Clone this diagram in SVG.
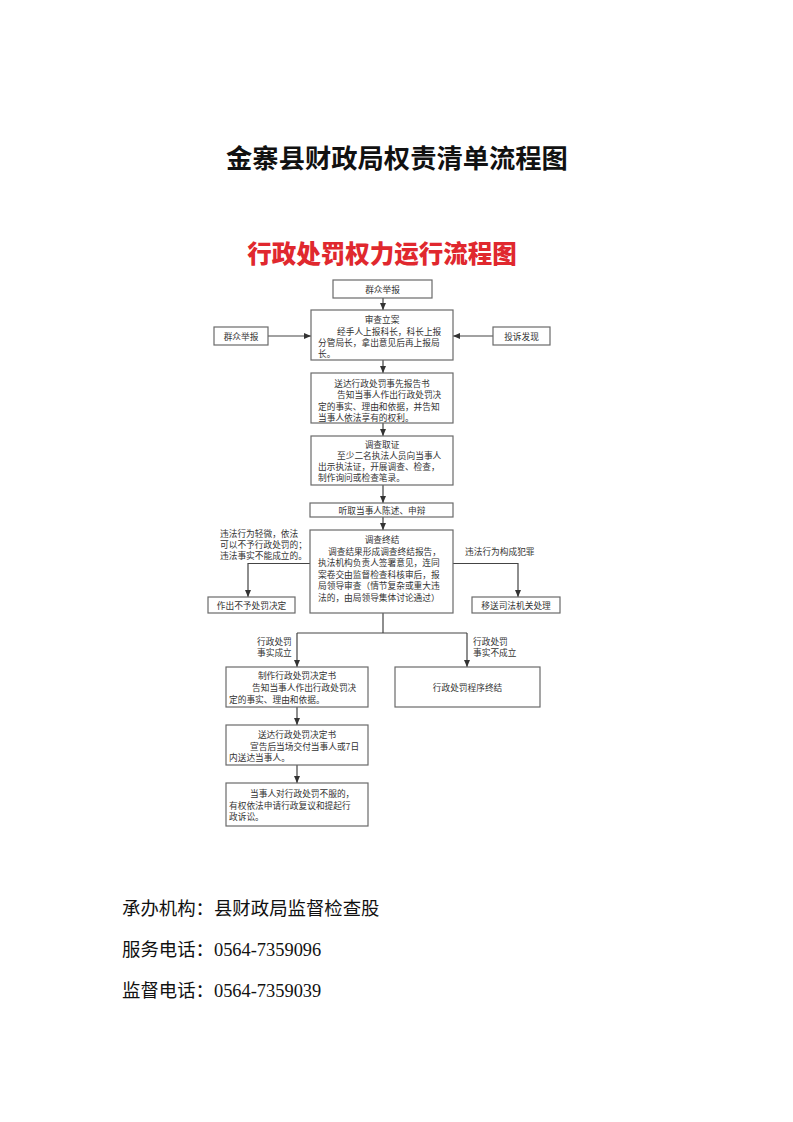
<svg xmlns="http://www.w3.org/2000/svg" width="793" height="1122" viewBox="0 0 793 1122">
<defs>
<style>
.bx{fill:#fff;stroke:#6a6a6a;stroke-width:1.2}
.t{font-family:"Noto Sans CJK SC",sans-serif;font-size:8.7px;fill:#333}
.c{text-anchor:middle}
.ln{fill:none;stroke:#444;stroke-width:1.2}
.ft{font-family:"Liberation Serif","Noto Sans CJK SC",serif;font-size:18.4px;fill:#111}
</style>
<marker id="ah" markerWidth="7" markerHeight="6" refX="7" refY="3" orient="auto" markerUnits="userSpaceOnUse">
<path d="M0,0 L7,3 L0,6 z" fill="#333"/>
</marker>
</defs>
<rect width="793" height="1122" fill="#fff"/>
<text x="397" y="168" text-anchor="middle" font-family="Liberation Serif,'Noto Sans CJK SC',serif" font-size="26.3" font-weight="700" fill="#111">金寨县财政局权责清单流程图</text>
<text x="382" y="263" text-anchor="middle" font-family="'Noto Sans CJK SC',sans-serif" font-size="24.5" font-weight="900" fill="#e0282e">行政处罚权力运行流程图</text>

<g id="connectors">
<path class="ln" d="M383,298 V310" marker-end="url(#ah)"/>
<path class="ln" d="M268,336 H311" marker-end="url(#ah)"/>
<path class="ln" d="M493,336 H453" marker-end="url(#ah)"/>
<path class="ln" d="M383,360 V373" marker-end="url(#ah)"/>
<path class="ln" d="M383,423 V436" marker-end="url(#ah)"/>
<path class="ln" d="M383,485 V503" marker-end="url(#ah)"/>
<path class="ln" d="M383,517 V530" marker-end="url(#ah)"/>
<path class="ln" d="M310,563.5 H248 V597" marker-end="url(#ah)"/>
<path class="ln" d="M453,563.5 H518 V597" marker-end="url(#ah)"/>
<path class="ln" d="M383,613 V633 M297,633 H467"/>
<path class="ln" d="M297,633 V667" marker-end="url(#ah)"/>
<path class="ln" d="M467,633 V667" marker-end="url(#ah)"/>
<path class="ln" d="M297,707 V725" marker-end="url(#ah)"/>
<path class="ln" d="M297,765 V783" marker-end="url(#ah)"/>
<text class="t" x="220" y="537">违法行为轻微，依法</text>
<text class="t" x="220" y="548">可以不予行政处罚的；</text>
<text class="t" x="220" y="559">违法事实不能成立的。</text>
<text class="t" x="465" y="555">违法行为构成犯罪</text>
<text class="t" x="257" y="645">行政处罚</text>
<text class="t" x="257" y="656">事实成立</text>
<text class="t" x="473" y="645">行政处罚</text>
<text class="t" x="473" y="656">事实不成立</text>
</g>

<g id="n_qzjb_top"><rect class="bx" x="333" y="280" width="99" height="18"/><text class="t c" x="382.5" y="292.5">群众举报</text></g>
<g id="n_qzjb_left"><rect class="bx" x="214" y="327" width="54" height="18"/><text class="t c" x="241" y="339.5">群众举报</text></g>
<g id="n_tsfx"><rect class="bx" x="493" y="327" width="57" height="18"/><text class="t c" x="521.5" y="339.5">投诉发现</text></g>
<g id="n_scla"><rect class="bx" x="311" y="310" width="142" height="50"/>
<text class="t c" x="382" y="323">审查立案</text>
<text class="t" x="337" y="334.5">经手人上报科长，科长上报</text>
<text class="t" x="318" y="346">分管局长，拿出意见后再上报局</text>
<text class="t" x="318" y="357">长。</text></g>
<g id="n_sdsx"><rect class="bx" x="311" y="373" width="142" height="50"/>
<text class="t c" x="382" y="387">送达行政处罚事先报告书</text>
<text class="t" x="337" y="398">告知当事人作出行政处罚决</text>
<text class="t" x="318" y="409.5">定的事实、理由和依据，并告知</text>
<text class="t" x="318" y="420.5">当事人依法享有的权利。</text></g>
<g id="n_dcqz"><rect class="bx" x="311" y="436" width="142" height="49"/>
<text class="t c" x="382" y="448">调查取证</text>
<text class="t" x="337" y="459">至少二名执法人员向当事人</text>
<text class="t" x="318" y="470">出示执法证，开展调查、检查，</text>
<text class="t" x="318" y="481">制作询问或检查笔录。</text></g>
<g id="n_tqcs"><rect class="bx" x="310" y="503" width="143" height="14"/><text class="t c" x="382" y="513.5">听取当事人陈述、申辩</text></g>
<g id="n_dczj"><rect class="bx" x="310" y="530" width="143" height="83"/>
<text class="t c" x="382" y="543">调查终结</text>
<text class="t" x="328" y="554.5">调查结果形成调查终结报告，</text>
<text class="t" x="318" y="566">执法机构负责人签署意见，连同</text>
<text class="t" x="318" y="577.5">案卷交由监督检查科核审后，报</text>
<text class="t" x="318" y="589">局领导审查（情节复杂或重大违</text>
<text class="t" x="318" y="600.5">法的，由局领导集体讨论通过）</text></g>
<g id="n_zcbycf"><rect class="bx" x="208" y="597" width="87" height="16"/><text class="t c" x="251.5" y="608.5">作出不予处罚决定</text></g>
<g id="n_ysfj"><rect class="bx" x="472" y="597" width="88" height="16"/><text class="t c" x="516" y="608.5">移送司法机关处理</text></g>
<g id="n_zzjds"><rect class="bx" x="226" y="667" width="142" height="40"/>
<text class="t c" x="297" y="678.5">制作行政处罚决定书</text>
<text class="t" x="252" y="691">告知当事人作出行政处罚决</text>
<text class="t" x="229" y="703">定的事实、理由和依据。</text></g>
<g id="n_cxzj"><rect class="bx" x="395" y="667" width="145" height="40"/><text class="t c" x="467.5" y="691">行政处罚程序终结</text></g>
<g id="n_sdjds"><rect class="bx" x="226" y="725" width="142" height="40"/>
<text class="t c" x="297" y="738">送达行政处罚决定书</text>
<text class="t" x="250" y="749.5">宣告后当场交付当事人或7日</text>
<text class="t" x="229" y="760.5">内送达当事人。</text></g>
<g id="n_fy"><rect class="bx" x="226" y="783" width="142" height="43"/>
<text class="t" x="250" y="796.5">当事人对行政处罚不服的，</text>
<text class="t" x="229" y="808.5">有权依法申请行政复议和提起行</text>
<text class="t" x="229" y="820">政诉讼。</text></g>

<text class="ft" x="122" y="915">承办机构：县财政局监督检查股</text>
<text class="ft" x="122" y="956">服务电话：0564-7359096</text>
<text class="ft" x="122" y="997">监督电话：0564-7359039</text>
</svg>
